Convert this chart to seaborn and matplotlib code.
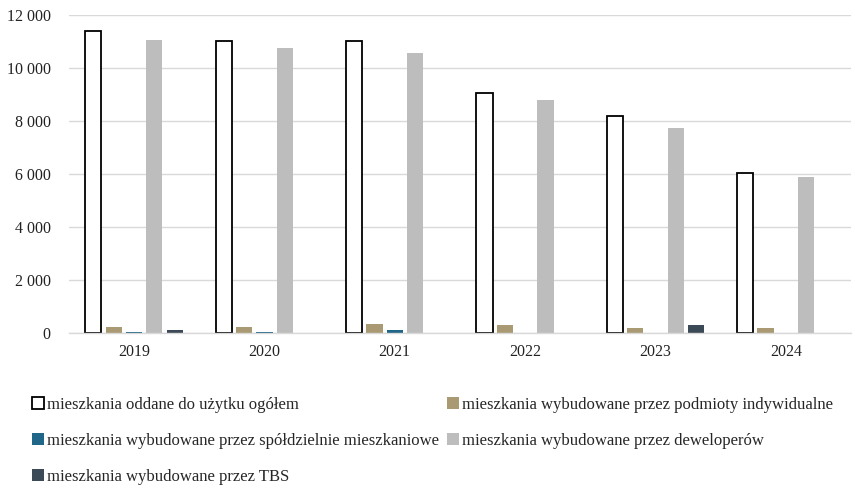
import matplotlib
matplotlib.use("Agg")
import matplotlib.pyplot as plt
import matplotlib.ticker as mticker
import seaborn as sns
import pandas as pd

years = ["2019", "2020", "2021", "2022", "2023", "2024"]
series = [
    "mieszkania oddane do użytku ogółem",
    "mieszkania wybudowane przez podmioty indywidualne",
    "mieszkania wybudowane przez spółdzielnie mieszkaniowe",
    "mieszkania wybudowane przez deweloperów",
    "mieszkania wybudowane przez TBS",
]
total = [11400, 11000, 11000, 9050, 8200, 6040]
individual = [230, 230, 340, 300, 200, 200]
cooperative = [30, 40, 110, 0, 0, 0]
developers = [11050, 10760, 10570, 8800, 7740, 5890]
tbs = [100, 0, 0, 0, 300, 0]

colors = ["#FFFFFF", "#A99A74", "#1F6688", "#BDBDBD", "#3C4956"]

values = [total, individual, cooperative, developers, tbs]
df = pd.DataFrame(
    [(y, s, v) for s, vals in zip(series, values) for y, v in zip(years, vals)],
    columns=["rok", "seria", "liczba"],
)

sns.set_theme(style="white")
plt.rcParams["font.family"] = ["Liberation Serif", "DejaVu Serif"]

fig = plt.figure(figsize=(8.55, 4.9), dpi=100)
ax = fig.add_axes([0.0805, 0.3204, 0.9148, 0.649])

sns.barplot(
    data=df, x="rok", y="liczba", hue="seria", order=years, hue_order=series,
    palette=colors, width=0.78, gap=0.2, legend=False, ax=ax, saturation=1,
)

# outline for the white "total" bars
for bar in ax.containers[0]:
    bar.set_edgecolor("black")
    bar.set_linewidth(1.3)
for cont in ax.containers[1:]:
    for bar in cont:
        bar.set_linewidth(0)

ax.set_ylim(0, 12000)
ax.set_yticks(range(0, 12001, 2000))
ax.yaxis.set_major_formatter(mticker.FuncFormatter(lambda v, p: f"{int(v):,}".replace(",", " ")))
ax.grid(axis="y", color="#D9D9D9", linewidth=1)
ax.set_axisbelow(True)
for s in ["top", "right", "left"]:
    ax.spines[s].set_visible(False)
ax.spines["bottom"].set_color("#D9D9D9")
ax.spines["bottom"].set_linewidth(1)
ax.tick_params(axis="both", length=0, labelsize=11.5, colors="#222222")
ax.tick_params(axis="x", pad=8)
ax.tick_params(axis="y", pad=13)
ax.set_xlabel("")
ax.set_ylabel("")

# legend laid out row by row across two columns
handles = list(ax.containers)
order = [0, 2, 4, 1, 3]
fig.legend(
    [handles[i] for i in order], [series[i] for i in order],
    loc="upper left", bbox_to_anchor=(0.038, 0.19), ncol=2, frameon=False,
    fontsize=12, handlelength=0.7, handleheight=0.7, handletextpad=0.2,
    columnspacing=0.45, labelspacing=1.2, borderaxespad=0, borderpad=0,
)

fig.savefig("out.png", dpi=100)
